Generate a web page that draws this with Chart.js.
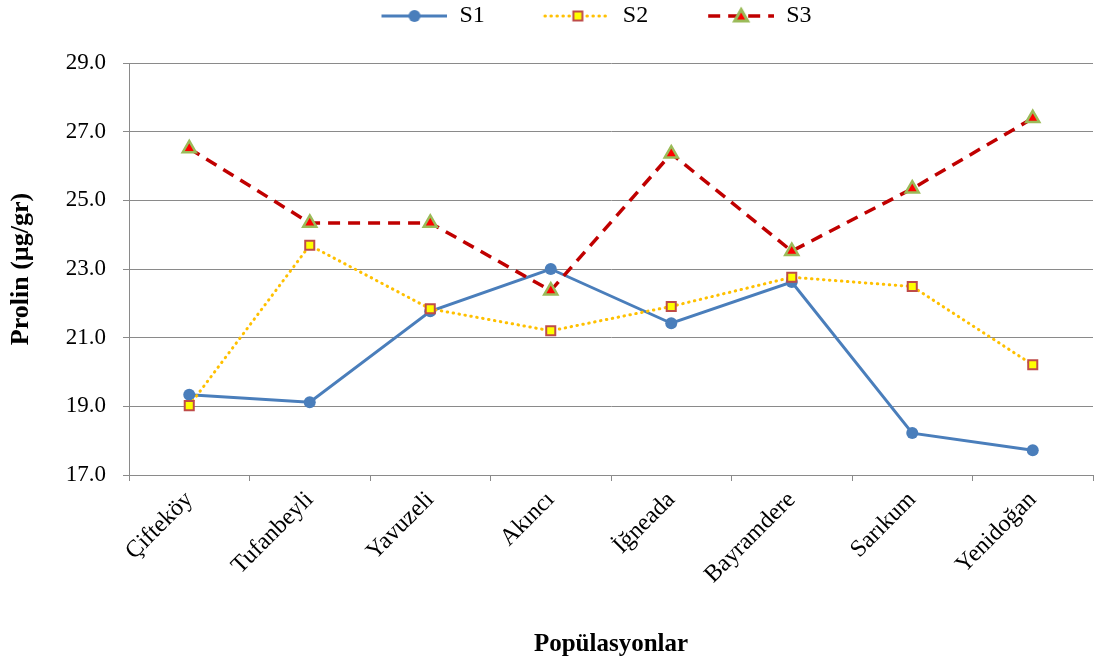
<!DOCTYPE html>
<html>
<head>
<meta charset="utf-8">
<title>Prolin</title>
<script src="https://cdn.jsdelivr.net/npm/chart.js@4.4.1/dist/chart.umd.min.js"></script>
<style>
    html, body { margin: 0; padding: 0; background: #fff; overflow: hidden; }
    #wrap { position: relative; width: 1094px; height: 663px; }
</style>
</head>
<body>
<div id="wrap"><canvas id="prolinChart"></canvas></div>
<script>
// Populasyonlar (osa X)
const populations = ['Çifteköy', 'Tufanbeyli', 'Yavuzeli', 'Akıncı', 'İğneada', 'Bayramdere', 'Sarıkum', 'Yenidoğan'];

// Hodnoty serii
const s1Values = [19.34, 19.12, 21.77, 23.00, 21.42, 22.62, 18.22, 17.72];
const s2Values = [19.02, 23.69, 21.84, 21.20, 21.91, 22.76, 22.49, 20.21];
const s3Values = [26.51, 24.34, 24.34, 22.37, 26.36, 23.52, 25.34, 27.39];

// Popisky osy Y
const yTicks = [17, 19, 21, 23, 25, 27, 29];

const serif = "'Liberation Serif', 'Times New Roman', serif";
const gridColor = '#8a8a8a';

// Legend sample: line + marker, drawn on a small canvas
function legendSample(kind) {
    const c = document.createElement('canvas');
    c.width = 118;
    c.height = 22;
    const g = c.getContext('2d');
    const x0 = 52, x1 = 118, cy = 11, mx = (x0 + x1) / 2;
    g.lineCap = 'butt';
    if (kind === 's1') {
        g.strokeStyle = '#4A7EBB';
        g.lineWidth = 3;
    } else if (kind === 's2') {
        g.strokeStyle = '#FFC000';
        g.lineWidth = 3;
        g.lineCap = 'round';
        g.setLineDash([0.5, 5.5]);
    } else {
        g.strokeStyle = '#C00000';
        g.lineWidth = 3.5;
        g.setLineDash([12, 8]);
    }
    g.beginPath();
    g.moveTo(x0, cy);
    g.lineTo(x1, cy);
    g.stroke();
    g.setLineDash([]);
    if (kind === 's1') {
        g.fillStyle = '#4A7EBB';
        g.beginPath();
        g.arc(mx, cy, 6, 0, Math.PI * 2);
        g.fill();
    } else if (kind === 's2') {
        g.fillStyle = '#FFFF00';
        g.strokeStyle = '#BE4B48';
        g.lineWidth = 2;
        g.fillRect(mx - 4.5, cy - 4.5, 9, 9);
        g.strokeRect(mx - 4.5, cy - 4.5, 9, 9);
    } else {
        g.fillStyle = '#FF0000';
        g.strokeStyle = '#9BBB59';
        g.lineWidth = 3;
        g.beginPath();
        g.moveTo(mx, cy - 6.5);
        g.lineTo(mx + 6.5, cy + 5);
        g.lineTo(mx - 6.5, cy + 5);
        g.closePath();
        g.fill();
        g.stroke();
    }
    return c;
}

const legendSamples = [legendSample('s1'), legendSample('s2'), legendSample('s3')];

// Pevne rozmery legendy a posun
const layoutPlugin = {
    id: 'fixedLayout',
    beforeInit(chart) {
        const lg = chart.legend;
        if (lg) {
            const fit = lg.fit;
            lg.fit = function () {
                fit.call(this);
                this.height = 63;
            };
        }
    },
    afterLayout(chart) {
        const lg = chart.legend;
        if (lg) {
            lg.left += 24;
            lg.right += 24;
            lg.top -= 4;
        }
    }
};

const ctx = document.getElementById('prolinChart').getContext('2d');
new Chart(ctx, {
    type: 'line',
    data: {
        labels: populations,
        datasets: [
            {
                label: 'S1',
                data: s1Values,
                borderColor: '#4A7EBB',
                backgroundColor: '#4A7EBB',
                borderWidth: 3,
                pointStyle: 'circle',
                pointRadius: 6,
                pointBorderWidth: 0,
                tension: 0,
                order: 3
            },
            {
                label: 'S2',
                data: s2Values,
                borderColor: '#FFC000',
                borderWidth: 3,
                borderDash: [0.5, 5.5],
                borderCapStyle: 'round',
                pointStyle: 'rect',
                pointRadius: 6.4,
                pointBackgroundColor: '#FFFF00',
                pointBorderColor: '#BE4B48',
                pointBorderWidth: 2,
                tension: 0,
                order: 2
            },
            {
                label: 'S3',
                data: s3Values,
                borderColor: '#C00000',
                borderWidth: 3.5,
                borderDash: [12, 8],
                pointStyle: 'triangle',
                pointRadius: 7.5,
                pointBackgroundColor: '#FF0000',
                pointBorderColor: '#9BBB59',
                pointBorderWidth: 2.5,
                tension: 0,
                order: 1
            }
        ]
    },
    options: {
        responsive: true,
        maintainAspectRatio: false,
        animation: false,
        layout: { autoPadding: false, padding: { left: 0, right: 1, top: 0, bottom: 0 } },
        plugins: {
            tooltip: { enabled: false },
            legend: {
                position: 'top',
                labels: {
                    usePointStyle: true,
                    pointStyleWidth: 118,
                    padding: 8,
                    color: '#000',
                    font: { family: serif, size: 24 },
                    generateLabels(chart) {
                        return chart.data.datasets.map((ds, i) => ({
                            text: ds.label,
                            pointStyle: legendSamples[i],
                            fillStyle: 'transparent',
                            strokeStyle: 'transparent',
                            lineWidth: 0,
                            hidden: false,
                            datasetIndex: i,
                            fontColor: '#000'
                        }));
                    }
                }
            }
        },
        scales: {
            x: {
                offset: true,
                afterFit(scale) {
                    scale.height = 188;
                    scale.paddingLeft = 0;
                    scale.paddingRight = 0;
                },
                grid: {
                    offset: true,
                    drawOnChartArea: false,
                    drawTicks: true,
                    tickLength: 6,
                    color: gridColor
                },
                border: { color: gridColor, width: 1 },
                ticks: {
                    minRotation: 45,
                    maxRotation: 45,
                    autoSkip: false,
                    padding: 5,
                    color: '#000',
                    font: { family: serif, size: 24 }
                },
                title: {
                    display: true,
                    text: 'Popülasyonlar',
                    color: '#000',
                    font: { family: serif, size: 25, weight: 'bold' },
                    padding: { top: 0, bottom: 3 }
                }
            },
            y: {
                min: 17,
                max: 29,
                afterFit(scale) { scale.width = 129; },
                afterBuildTicks(scale) {
                    scale.ticks = yTicks.map(v => ({ value: v }));
                },
                grid: {
                    color: gridColor,
                    tickLength: 6,
                    lineWidth: 1
                },
                border: { color: gridColor, width: 1 },
                ticks: {
                    padding: 17,
                    color: '#000',
                    font: { family: serif, size: 23 },
                    callback: v => Number(v).toFixed(1)
                },
                title: {
                    display: true,
                    text: 'Prolin (µg/gr)',
                    color: '#000',
                    font: { family: serif, size: 26, weight: 'bold' },
                    padding: { top: 6, bottom: 0 }
                }
            }
        }
    },
    plugins: [layoutPlugin]
});
</script>
</body>
</html>
